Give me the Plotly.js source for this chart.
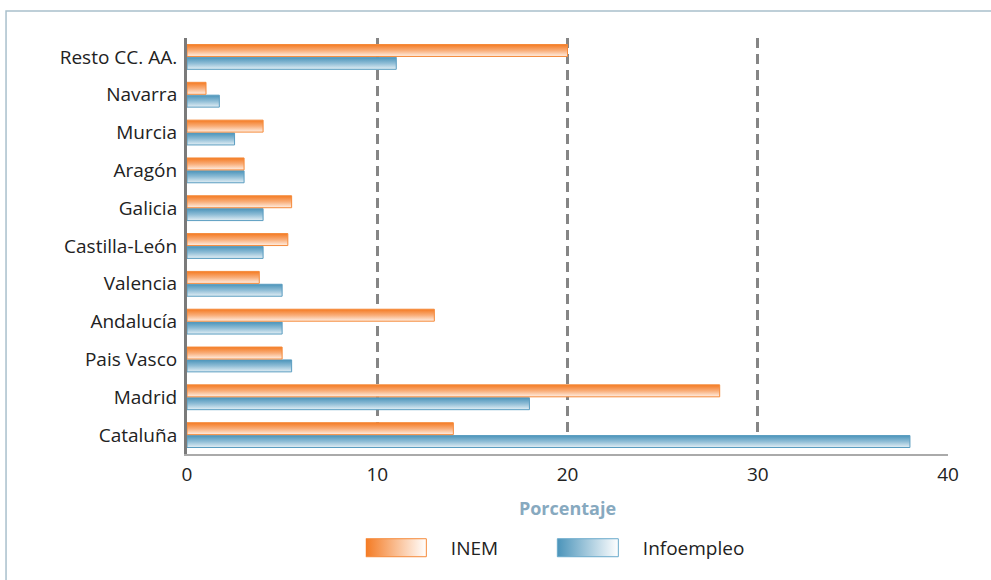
<!DOCTYPE html>
<html>
<head>
<meta charset="utf-8">
<script src="https://cdn.plot.ly/plotly-3.0.1.min.js"></script>
<style>
html,body{margin:0;padding:0;background:#fff;}
#chart{width:991px;height:580px;}
</style>
</head>
<body>
<div id="chart"></div>
<script>
// Categories listed bottom to top
const categories = ["Cataluña","Madrid","Pais Vasco","Andalucía","Valencia","Castilla-León","Galicia","Aragón","Murcia","Navarra","Resto CC. AA."];
const inem =       [14, 28, 5, 13, 3.8, 5.3, 5.5, 3, 4, 1, 20];
const infoempleo = [38, 18, 5.5, 5, 5, 4, 4, 3, 2.5, 1.7, 11];
const xTicks = [0, 10, 20, 30, 40];
const xTitle = "Porcentaje";

const FONT = "'Open Sans', 'Noto Sans', sans-serif";

const data = [
  {
    type: "bar", orientation: "h", name: "Infoempleo",
    y: categories, x: infoempleo,
    marker: {color: "#8fbdd5", line: {color: "#5b9dc0", width: 1}},
    legendrank: 2
  },
  {
    type: "bar", orientation: "h", name: "INEM",
    y: categories, x: inem,
    marker: {color: "#f9b07c", line: {color: "#f58a3a", width: 1}},
    legendrank: 1
  }
];

const layout = {
  width: 991, height: 580,
  margin: {l: 187, r: 43, t: 38, b: 126, autoexpand: false},
  paper_bgcolor: "#fff", plot_bgcolor: "#fff",
  barmode: "group", bargap: 0.32, bargroupgap: 0.07,
  font: {family: FONT, size: 19, color: "#222"},
  showlegend: true,
  legend: {
    orientation: "h", x: 0.235, xanchor: "left", y: -0.18, yanchor: "top",
    font: {family: FONT, size: 19, color: "#222"},
    entrywidth: 102, entrywidthmode: "pixels", itemwidth: 75,
    bgcolor: "rgba(0,0,0,0)"
  },
  xaxis: {
    range: [0, 40], tickvals: xTicks, ticktext: xTicks.map(String),
    showgrid: true, gridcolor: "#858585", gridwidth: 3, griddash: "10px,6px",
    zeroline: false, showline: true, linecolor: "#aaaaaa", linewidth: 1.5,
    ticks: "", ticklabelstandoff: 3, automargin: false,
    tickfont: {family: FONT, size: 19, color: "#222"},
    title: {text: "<b>" + xTitle + "</b>", font: {family: FONT, size: 18, color: "#87a9bf"}, standoff: 16},
    fixedrange: true
  },
  yaxis: {
    type: "category", categoryorder: "array", categoryarray: categories,
    showgrid: false, zeroline: false, showline: true, linecolor: "#7a7a7a", linewidth: 3,
    ticks: "", ticklabelstandoff: 3, automargin: false,
    tickfont: {family: FONT, size: 19, color: "#222"},
    fixedrange: true
  },
  shapes: [{
    type: "rect", xref: "paper", yref: "paper",
    x0: -0.2378, x1: 1.2, y0: -0.5, y1: 1.065,
    line: {color: "#a9c0cc", width: 1.5}, fillcolor: "rgba(0,0,0,0)", layer: "below"
  }]
};

Plotly.newPlot("chart", data, layout, {staticPlot: true, displayModeBar: false}).then(function (gd) {
  const ns = "http://www.w3.org/2000/svg";
  const svg = gd.querySelector(".main-svg");
  let defs = svg.querySelector("defs");
  if (!defs) { defs = document.createElementNS(ns, "defs"); svg.insertBefore(defs, svg.firstChild); }
  function grad(id, stops, horiz) {
    const g = document.createElementNS(ns, "linearGradient");
    g.setAttribute("id", id);
    g.setAttribute("x1", "0"); g.setAttribute("y1", "0");
    g.setAttribute("x2", horiz ? "1" : "0"); g.setAttribute("y2", horiz ? "0" : "1");
    stops.forEach(function (s) {
      const st = document.createElementNS(ns, "stop");
      st.setAttribute("offset", s[0]); st.setAttribute("stop-color", s[1]);
      g.appendChild(st);
    });
    defs.appendChild(g);
  }
  grad("gB", [["0", "#4b94ba"], ["0.5", "#8fbdd6"], ["1", "#e3eff5"]], false);
  grad("gO", [["0", "#f47a22"], ["0.5", "#f9ad78"], ["1", "#fff0e6"]], false);
  grad("gBL", [["0", "#4b94ba"], ["1", "#ffffff"]], true);
  grad("gOL", [["0", "#f47a22"], ["1", "#ffffff"]], true);
  const traces = gd.querySelectorAll(".barlayer .trace");
  const ids = ["gB", "gO"];
  traces.forEach(function (t, i) {
    t.querySelectorAll("path").forEach(function (p) { p.style.fill = "url(#" + ids[i] + ")"; });
  });
  gd.querySelectorAll(".legend .traces").forEach(function (t) {
    const name = t.querySelector("text").textContent;
    t.querySelectorAll(".legendpoints path").forEach(function (p) {
      p.setAttribute("d", "M-43,9H18V-9H-43Z");
      p.style.fill = name === "INEM" ? "url(#gOL)" : "url(#gBL)";
      p.style.stroke = name === "INEM" ? "#f58a3a" : "#6aaacb";
      p.style.strokeWidth = "1px";
    });
  });
});
</script>
</body>
</html>
